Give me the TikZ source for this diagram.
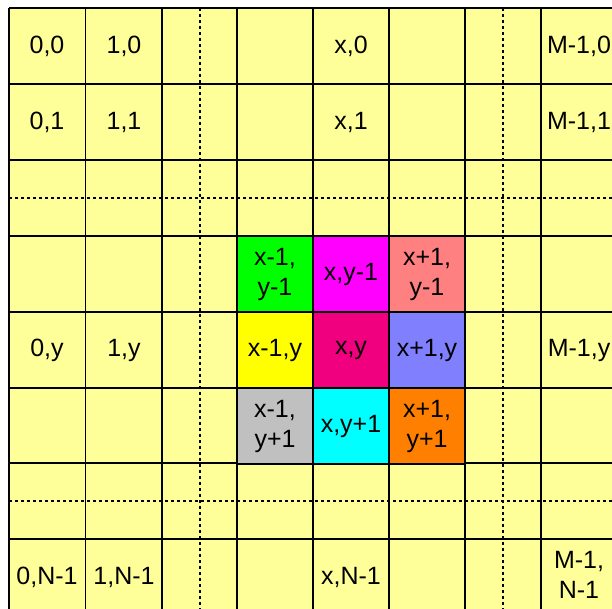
\documentclass[tikz,border=0pt]{standalone}
\usepackage{fontspec}
\setmainfont{Liberation Sans}
\definecolor{bgyellow}{HTML}{FFFF99}
\definecolor{cgreen}{HTML}{00FF00}
\definecolor{cmagenta}{HTML}{FF00FF}
\definecolor{csalmon}{HTML}{FF8080}
\definecolor{cyellow}{HTML}{FFFF00}
\definecolor{cpink}{HTML}{F0007F}
\definecolor{cblue}{HTML}{8080FF}
\definecolor{cgray}{HTML}{C0C0C0}
\definecolor{ccyan}{HTML}{00FFFF}
\definecolor{corange}{HTML}{FF8000}
\begin{document}
\begin{tikzpicture}[x=1pt,y=-1pt,
  gridline/.style={line width=1.9pt, black},
  dotline/.style={line width=2pt, black, dash pattern=on 3pt off 3pt},
  lbl/.style={font=\fontsize{25}{30}\selectfont, align=center, inner sep=0pt},
  cellbox/.style={draw=black, line width=1.9pt, minimum size=76pt, inner sep=0pt,
                  font=\fontsize{25}{30}\selectfont, align=center}]
\useasboundingbox (0,0) rectangle (612,608);
\clip (0,0) rectangle (612,608);
\fill[bgyellow] (9,8) rectangle (650,650);
% solid grid lines
\foreach \y in {8,84,160,236,312,388,463,539}
  \draw[gridline] (9,\y) -- (650,\y);
\foreach \x in {9,85.5,162,237,313,389,465,541}
  \draw[gridline] (\x,8) -- (\x,650);
% dotted lines
\foreach \y in {198,501}
  \draw[dotline] (9,\y) -- (650,\y);
\foreach \x in {199.5,503}
  \draw[dotline] (\x,8) -- (\x,650);
% coloured neighbourhood
\node[cellbox, fill=cgreen]   (nw) at (275,274) {x-1,\\y-1};
\node[cellbox, fill=cmagenta] (n)  at (351,274) {x,y-1};
\node[cellbox, fill=csalmon]  (ne) at (427,274) {x+1,\\y-1};
\node[cellbox, fill=cyellow]  (w)  at (275,350) {x-1,y};
\node[cellbox, fill=cpink]    (c)  at (351,350) {x,y};
\node[cellbox, fill=cblue]    (e)  at (427,350) {x+1,y};
\node[cellbox, fill=cgray]    (sw) at (275,426) {x-1,\\y+1};
\node[cellbox, fill=ccyan]    (s)  at (351,426) {x,y+1};
\node[cellbox, fill=corange]  (se) at (427,426) {x+1,\\y+1};
% labels
\node[lbl] (a00) at (47,46) {0,0};
\node[lbl] (a10) at (124,46) {1,0};
\node[lbl] (ax0) at (351,46) {x,0};
\node[lbl] (am0) at (579,46) {M-1,0};
\node[lbl] (a01) at (47,122) {0,1};
\node[lbl] (a11) at (124,122) {1,1};
\node[lbl] (ax1) at (351,122) {x,1};
\node[lbl] (am1) at (579,122) {M-1,1};
\node[lbl] (a0y) at (47,350) {0,y};
\node[lbl] (a1y) at (124,350) {1,y};
\node[lbl] (amy) at (579,350) {M-1,y};
\node[lbl] (a0n) at (47,577) {0,N-1};
\node[lbl] (a1n) at (124,577) {1,N-1};
\node[lbl] (axn) at (351,577) {x,N-1};
\node[lbl] (amn) at (579,575) {M-1,\\N-1};
\end{tikzpicture}
\end{document}
